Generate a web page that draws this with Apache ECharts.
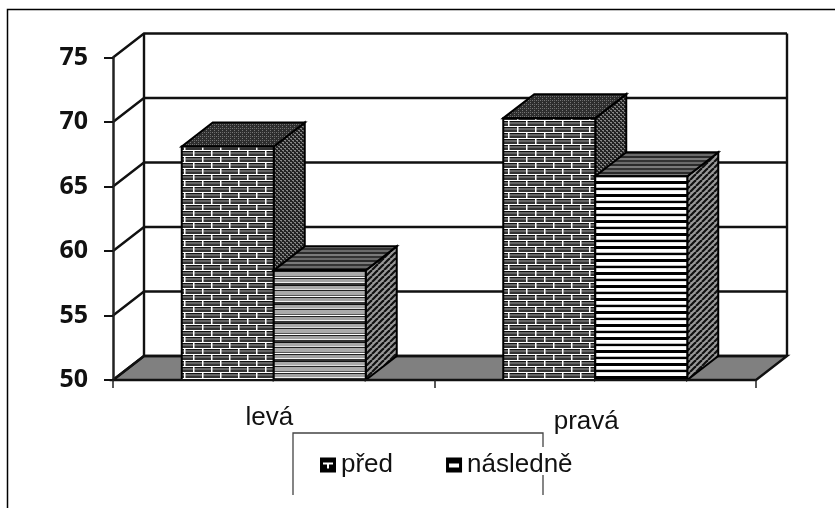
<!DOCTYPE html>
<html><head><meta charset="utf-8">
<style>html,body{margin:0;padding:0;background:#fff}#c{width:835px;height:508px;filter:blur(0.4px)}</style>
<script src="https://cdn.jsdelivr.net/npm/echarts@6/dist/echarts.min.js"></script>
</head><body><div id="c"></div>
<script>
const categories = ['levá', 'pravá'];
const seriesNames = ['před', 'následně'];
const predValues = [68.1, 70.3];
const nasledneValues = [58.5, 65.8];
const yTicks = [50, 55, 60, 65, 70, 75];

const DX = 31, DY = 24, BAR_W = 92;

function tile(w, h, draw) {
  const c = document.createElement('canvas');
  c.width = w; c.height = h;
  draw(c.getContext('2d'));
  return { image: c, repeat: 'repeat' };
}
function rows(ctx, w, list) {
  let y = 0;
  list.forEach(([col, n]) => { ctx.fillStyle = col; ctx.fillRect(0, y, w, n); y += n; });
}
const brickFront = tile(18, 12, g => {
  rows(g, 18, [['#fff', 1], ['#111', 1], ['#666', 2], ['#333', 2], ['#fff', 1], ['#111', 1], ['#666', 2], ['#333', 2]]);
  g.fillStyle = '#fff';
  g.fillRect(4, 1, 1.5, 5);
  g.fillRect(13, 7, 1.5, 5);
});
const brickTop = tile(4, 4, g => {
  g.fillStyle = '#2e2e2e'; g.fillRect(0, 0, 4, 4);
  g.fillStyle = '#777'; g.fillRect(0, 0, 1, 1); g.fillRect(2, 2, 1, 1);
  g.fillStyle = '#666'; g.fillRect(2, 0, 1, 1);
});
const brickSide = tile(4, 4, g => {
  g.fillStyle = '#222'; g.fillRect(0, 0, 4, 4);
  g.fillStyle = '#888'; g.fillRect(0, 0, 2, 1); g.fillRect(2, 2, 2, 1);
  g.fillStyle = '#666'; g.fillRect(1, 1, 1, 1); g.fillRect(3, 3, 1, 1);
});
const stripeGrey = tile(18, 19, g => {
  rows(g, 18, [['#111', 1], ['#a8a8a8', 3], ['#ddd', 1], ['#222', 1], ['#aaa', 4], ['#555', 1], ['#fff', 1], ['#222', 1], ['#a0a0a0', 3], ['#eee', 1], ['#333', 2]]);
});
const stripeHard = tile(18, 13, g => {
  rows(g, 18, [['#000', 2], ['#fff', 3], ['#bbb', 1], ['#000', 2], ['#ddd', 1], ['#fff', 3], ['#000', 1]]);
});
const stripeTop = tile(8, 8, g => {
  rows(g, 8, [['#333', 2], ['#6a6a6a', 2], ['#2a2a2a', 2], ['#7a7a7a', 2]]);
});
const stripeSide = tile(6, 6, g => {
  g.fillStyle = '#999'; g.fillRect(0, 0, 6, 6);
  g.strokeStyle = '#111'; g.lineWidth = 2.2;
  [-6, 0, 6, 12].forEach(o => { g.beginPath(); g.moveTo(o, 6); g.lineTo(o + 6, 0); g.stroke(); });
});

const FACE = { stroke: '#000', lineWidth: 2 };
function box(api, side) {
  const i = api.value(0), v = api.value(1);
  const p = api.coord([i, v]), b = api.coord([i, yTicks[0]]);
  const x0 = side === 0 ? p[0] - BAR_W : p[0];
  const x1 = x0 + BAR_W, t = p[1], y = b[1];
  const front = side === 0 ? brickFront : (i === 0 ? stripeGrey : stripeHard);
  const topF = side === 0 ? brickTop : stripeTop;
  const sideF = side === 0 ? brickSide : stripeSide;
  return { type: 'group', children: [
    { type: 'polygon', shape: { points: [[x1, t], [x1 + DX, t - DY], [x1 + DX, y - DY], [x1, y]] }, style: { fill: sideF, ...FACE } },
    { type: 'polygon', shape: { points: [[x0, t], [x0 + DX, t - DY], [x1 + DX, t - DY], [x1, t]] }, style: { fill: topF, ...FACE } },
    { type: 'rect', shape: { x: x0, y: t, width: BAR_W, height: y - t }, style: { fill: front, ...FACE } }
  ] };
}
function barData(vals) { return vals.map((v, i) => [i, v]); }

const LINE = { stroke: '#111', lineWidth: 2.4, fill: null };
const option = {
  animation: false,
  backgroundColor: '#fff',
  grid: { left: 113, right: 79, top: 57.5, bottom: 128 },
  xAxis: {
    type: 'category', data: categories, z: 10,
    axisLine: { lineStyle: { color: '#111', width: 2 } },
    axisTick: { show: true, length: 8, lineStyle: { color: '#222', width: 1.5 } },
    axisLabel: {
      margin: 25,
      formatter: (v, i) => i === 0 ? '{a|' + v + '}' : '{b|' + v + '}',
      rich: {
        a: { fontFamily: 'Liberation Sans', fontSize: 26, color: '#111', padding: [0, 9, 0, 0] },
        b: { fontFamily: 'Liberation Sans', fontSize: 26, color: '#111', padding: [4, 18, 0, 0] }
      }
    }
  },
  yAxis: {
    type: 'value', min: 50, max: 75, interval: 5, z: 10,
    axisLine: { show: true, lineStyle: { color: '#222', width: 2.5 } },
    axisTick: { show: true, length: 9, lineStyle: { color: '#111', width: 2 } },
    splitLine: { show: false },
    axisLabel: { margin: 25, fontFamily: 'Noto Sans', fontWeight: 'bold', fontSize: 25, color: '#111' }
  },
  legend: {
    data: [
      { name: seriesNames[0], icon: 'path://M0 0H16V15H0ZM3 5V7H7V11H9V7H13V5Z', itemStyle: { color: '#000' } },
      { name: seriesNames[1], icon: 'path://M0 0H16V15H0ZM3 6V10H13V6Z', itemStyle: { color: '#000' } }
    ],
    left: 320, top: 452, padding: 0, itemWidth: 16, itemHeight: 15, itemGap: 53, itemTextGap: 4,
    selectedMode: false,
    textStyle: { fontFamily: 'Liberation Sans', fontSize: 26, color: '#111' }
  },
  graphic: [
    { type: 'polyline', silent: true, shape: { points: [[7.5, 508], [7.5, 9.5], [835, 9.5]] }, style: { stroke: '#000', lineWidth: 1.5, fill: null } },
    { type: 'polyline', silent: true, shape: { points: [[293, 495], [293, 433], [543, 433], [543, 447]] }, style: { stroke: '#444', lineWidth: 1.3, fill: null } },
    { type: 'polyline', silent: true, shape: { points: [[543, 475], [543, 495]] }, style: { stroke: '#444', lineWidth: 1.3, fill: null } }
  ],
  series: [
    {
      type: 'custom', name: 'wall', coordinateSystem: 'cartesian2d', silent: true, z: 1, clip: false,
      data: yTicks.map(v => [v]), encode: { y: 0 },
      renderItem(params, api) {
        const cs = params.coordSys, v = api.value(0);
        const y = api.coord([0, v])[1], xl = cs.x, xr = cs.x + cs.width;
        const children = [];
        if (v === yTicks[0]) {
          children.push({ type: 'polygon', shape: { points: [[xl, y], [xl + DX, y - DY], [xr + DX, y - DY], [xr, y]] }, style: { ...LINE, fill: '#808080' } });
        }
        if (v === yTicks[yTicks.length - 1]) {
          const yb = api.coord([0, yTicks[0]])[1] - DY;
          children.push({ type: 'line', shape: { x1: xl + DX, y1: y - DY, x2: xl + DX, y2: yb }, style: LINE });
          children.push({ type: 'line', shape: { x1: xr + DX, y1: y - DY, x2: xr + DX, y2: yb }, style: LINE });
        }
        children.push({ type: 'polyline', shape: { points: [[xl, y], [xl + DX, y - DY], [xr + DX, y - DY]] }, style: LINE });
        return { type: 'group', children };
      }
    },
    {
      type: 'custom', name: seriesNames[0], coordinateSystem: 'cartesian2d', z: 3, clip: false,
      data: barData(predValues), encode: { x: 0, y: 1 },
      renderItem: (p, api) => box(api, 0)
    },
    {
      type: 'custom', name: seriesNames[1], coordinateSystem: 'cartesian2d', z: 4, clip: false,
      data: barData(nasledneValues), encode: { x: 0, y: 1 },
      renderItem: (p, api) => box(api, 1)
    }
  ]
};
echarts.init(document.getElementById('c'), null, { renderer: 'canvas' }).setOption(option);
</script></body></html>
